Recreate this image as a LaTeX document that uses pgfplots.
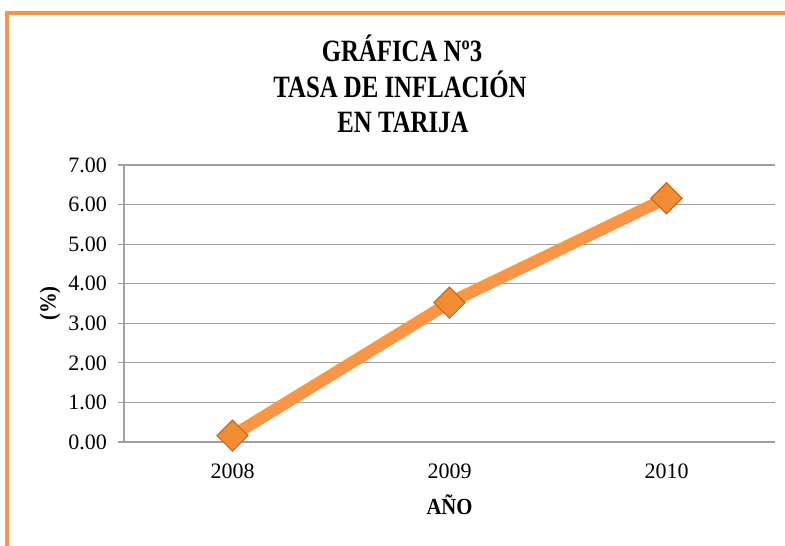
\documentclass[border=0pt]{standalone}
\usepackage{pgfplots}
\pgfplotsset{compat=1.18}
\usepackage{fontspec}
\setmainfont{Liberation Serif}
\newfontfamily\titlefont[FakeStretch=0.8]{Liberation Serif}
\newfontfamily\labelfont[FakeStretch=0.9]{Liberation Serif}
\definecolor{exorange}{RGB}{247,150,70}
\definecolor{mkfill}{RGB}{240,140,50}
\definecolor{mkdraw}{RGB}{196,100,25}
\definecolor{gridgray}{RGB}{160,160,160}
\begin{document}
\begin{tikzpicture}
\useasboundingbox (0pt,0pt) rectangle (785pt,-546pt);
\fill[white] (0pt,0pt) rectangle (785pt,-546pt);
\draw[exorange, line width=3.5pt] (7pt,-546pt) -- (7pt,-13pt) -- (785pt,-13pt);
\node[anchor=base, inner sep=0pt, font=\titlefont\bfseries\fontsize{31}{31}\selectfont] at (402pt,-61pt) {GRÁFICA Nº3};
\node[anchor=base, inner sep=0pt, font=\titlefont\bfseries\fontsize{31}{31}\selectfont] at (400pt,-97pt) {TASA DE INFLACIÓN};
\node[anchor=base, inner sep=0pt, font=\titlefont\bfseries\fontsize{31}{31}\selectfont] at (403pt,-132pt) {EN TARIJA};
\begin{axis}[
  at={(124pt,-442pt)}, anchor=south west,
  scale only axis, width=651pt, height=277pt,
  xmin=2007.5, xmax=2010.5, ymin=0, ymax=7,
  xtick={2008,2009,2010}, xticklabels={2008,2009,2010},
  ytick={0,1,2,3,4,5,6,7},
  axis x line*=bottom, axis y line*=left,
  axis line style={gridgray, line width=1.2pt, -},
  tick align=outside, major tick length=6pt,
  major x tick style={draw=none},
  major y tick style={gridgray, line width=1.2pt},
  ymajorgrids, grid style={gridgray, line width=1.2pt},
  /pgf/number format/assume math mode=true,
  /pgf/number format/fixed, /pgf/number format/fixed zerofill, /pgf/number format/precision=2,
  ticklabel style={font=\fontsize{22}{22}\selectfont, inner sep=0pt},
  xticklabel style={anchor=base, yshift=-30pt},
  yticklabel style={anchor=east, xshift=-11pt},
  xlabel={AÑO}, ylabel={(\%)},
  every axis x label/.style={at={(axis description cs:0.5,0)}, anchor=base, yshift=-72pt, inner sep=0pt, font=\labelfont\bfseries\fontsize{23}{23}\selectfont},
  every axis y label/.style={at={(axis description cs:-0.1137,0.5)}, rotate=90, anchor=center, inner sep=0pt, font=\labelfont\bfseries\fontsize{23}{23}\selectfont},
  clip=false,
]
\addplot[exorange, line width=12pt, mark=square*, mark size=11pt,
  mark options={rotate=45, fill=mkfill, draw=mkdraw, line width=1pt}]
  coordinates {(2008,0.16) (2009,3.52) (2010,6.16)};
\end{axis}
\end{tikzpicture}
\end{document}
